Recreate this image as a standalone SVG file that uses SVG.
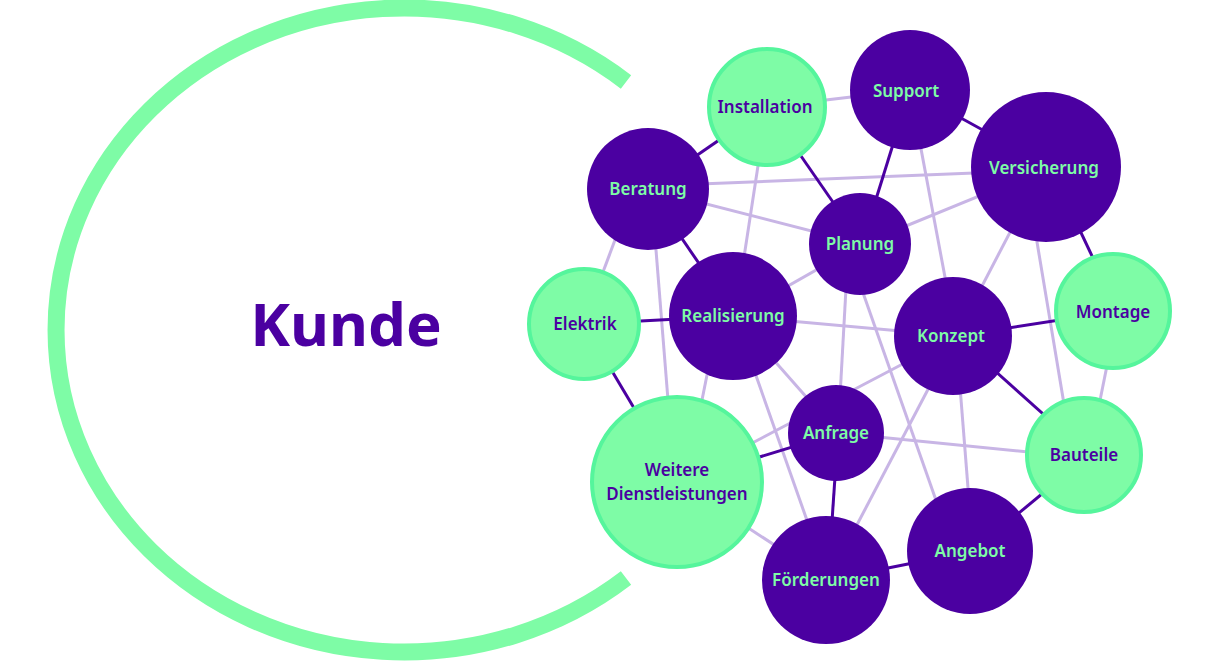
<svg xmlns="http://www.w3.org/2000/svg" width="1208" height="663" viewBox="0 0 1208 663">
<style>
.p{fill:#4b00a1}
.g{fill:#7efca6;stroke:#55f59c;stroke-width:4}
.lt{fill:#7efca6}
.ld{fill:#4b00a1}
text{font-family:"Noto Sans","Open Sans",sans-serif;font-weight:600;font-size:17px;text-anchor:middle}
.l{stroke:#c8b5e5;stroke-width:3}
.d{stroke:#4b00a1;stroke-width:3}
</style>
<rect width="1208" height="663" fill="#fff"/>
<path d="M626,82 A348,322 0 1 0 626,578" fill="none" stroke="#7efca6" stroke-width="17"/>
<text x="346" y="346" class="ld" style="font-size:60px;font-weight:700">Kunde</text>
<g id="connectors">
<line class="l" x1="767" y1="107" x2="910" y2="90"/>
<line class="l" x1="648" y1="186" x2="1050" y2="170"/>
<line class="l" x1="648" y1="189" x2="862" y2="244"/>
<line class="l" x1="630" y1="200" x2="600" y2="280"/>
<line class="l" x1="652" y1="200" x2="668" y2="400"/>
<line class="l" x1="767" y1="107" x2="735" y2="316"/>
<line class="l" x1="1050" y1="167" x2="862" y2="244"/>
<line class="l" x1="910" y1="90" x2="956" y2="336"/>
<line class="l" x1="1044" y1="167" x2="956" y2="336"/>
<line class="l" x1="1030" y1="200" x2="1065" y2="410"/>
<line class="l" x1="1118" y1="311" x2="1089" y2="455"/>
<line class="l" x1="862" y1="244" x2="735" y2="316"/>
<line class="l" x1="847" y1="270" x2="838" y2="433"/>
<line class="l" x1="855" y1="270" x2="950" y2="540"/>
<line class="l" x1="735" y1="316" x2="956" y2="336"/>
<line class="l" x1="735" y1="316" x2="838" y2="433"/>
<line class="l" x1="735" y1="316" x2="828" y2="580"/>
<line class="l" x1="710" y1="360" x2="700" y2="410"/>
<line class="l" x1="956" y1="336" x2="678" y2="482"/>
<line class="l" x1="956" y1="336" x2="828" y2="580"/>
<line class="l" x1="956" y1="336" x2="973" y2="551"/>
<line class="l" x1="838" y1="433" x2="1089" y2="458"/>
<line class="l" x1="678" y1="482" x2="828" y2="580"/>
<line class="d" x1="767" y1="107" x2="648" y2="189"/>
<line class="d" x1="767" y1="107" x2="862" y2="244"/>
<line class="d" x1="910" y1="90" x2="862" y2="244"/>
<line class="d" x1="910" y1="90" x2="1050" y2="167"/>
<line class="d" x1="1050" y1="167" x2="1118" y2="311"/>
<line class="d" x1="648" y1="189" x2="735" y2="316"/>
<line class="d" x1="584" y1="324" x2="735" y2="316"/>
<line class="d" x1="584" y1="324" x2="678" y2="482"/>
<line class="d" x1="956" y1="336" x2="1118" y2="311"/>
<line class="d" x1="956" y1="336" x2="1089" y2="455"/>
<line class="d" x1="838" y1="433" x2="678" y2="482"/>
<line class="d" x1="838" y1="433" x2="828" y2="580"/>
<line class="d" x1="828" y1="580" x2="973" y2="551"/>
<line class="d" x1="973" y1="551" x2="1089" y2="455"/>
</g>
<g id="installation"><circle class="g" cx="767" cy="107" r="58"/><text class="ld" x="765" y="113">Installation</text></g>
<g id="support"><circle class="p" cx="910" cy="90" r="60"/><text class="lt" x="906" y="97">Support</text></g>
<g id="beratung"><circle class="p" cx="648" cy="189" r="61"/><text class="lt" x="648" y="195">Beratung</text></g>
<g id="versicherung"><circle class="p" cx="1046" cy="167" r="75"/><text class="lt" x="1044" y="174">Versicherung</text></g>
<g id="planung"><circle class="p" cx="860" cy="244" r="51"/><text class="lt" x="860" y="250">Planung</text></g>
<g id="elektrik"><circle class="g" cx="584" cy="324" r="55"/><text class="ld" x="585" y="330">Elektrik</text></g>
<g id="realisierung"><circle class="p" cx="733" cy="316" r="64"/><text class="lt" x="733" y="322">Realisierung</text></g>
<g id="konzept"><circle class="p" cx="953" cy="336" r="59"/><text class="lt" x="951" y="342">Konzept</text></g>
<g id="montage"><circle class="g" cx="1113" cy="311" r="57"/><text class="ld" x="1113" y="318">Montage</text></g>
<g id="anfrage"><circle class="p" cx="836" cy="433" r="48"/><text class="lt" x="836" y="439">Anfrage</text></g>
<g id="bauteile"><circle class="g" cx="1084" cy="455" r="57"/><text class="ld" x="1084" y="461">Bauteile</text></g>
<g id="weitere"><circle class="g" cx="677" cy="482" r="85"/><text class="ld" x="677" y="476">Weitere</text><text class="ld" x="677" y="500">Dienstleistungen</text></g>
<g id="angebot"><circle class="p" cx="970" cy="551" r="63"/><text class="lt" x="970" y="557">Angebot</text></g>
<g id="foerderungen"><circle class="p" cx="826" cy="580" r="64"/><text class="lt" x="826" y="586">Förderungen</text></g>
</svg>
